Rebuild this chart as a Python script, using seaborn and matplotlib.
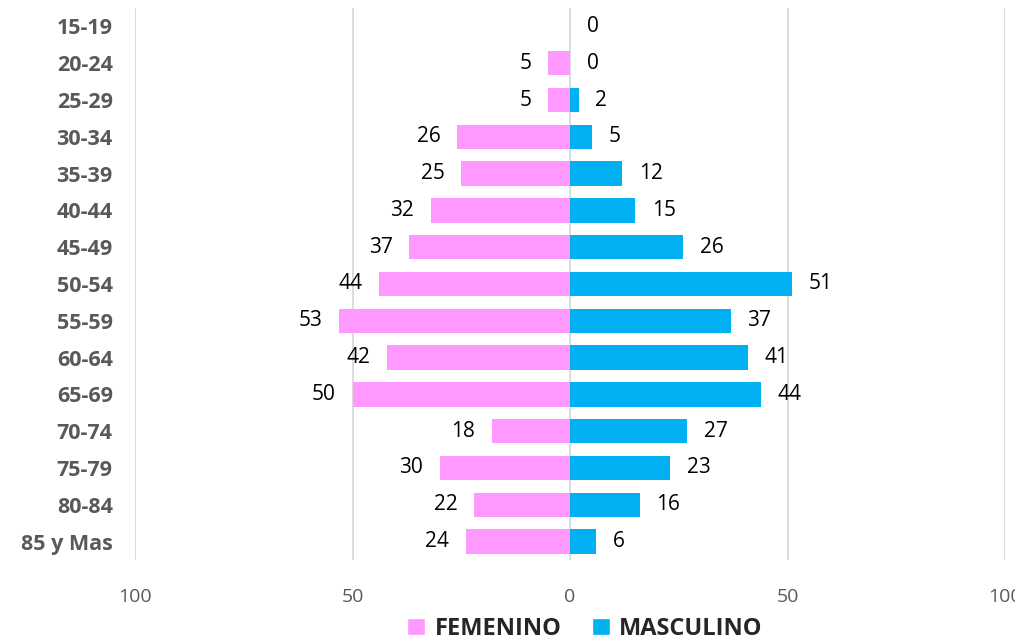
import matplotlib
matplotlib.use("Agg")
import matplotlib.pyplot as plt
import seaborn as sns
import pandas as pd
from matplotlib.patches import Patch

# data
edades = ["15-19", "20-24", "25-29", "30-34", "35-39", "40-44", "45-49", "50-54",
          "55-59", "60-64", "65-69", "70-74", "75-79", "80-84", "85 y Mas"]
femenino = [0, 5, 5, 26, 25, 32, 37, 44, 53, 42, 50, 18, 30, 22, 24]
masculino = [0, 0, 2, 5, 12, 15, 26, 51, 37, 41, 44, 27, 23, 16, 6]
x_ticks = [-100, -50, 0, 50, 100]

rosa = "#FF99FF"
azul = "#00B0F0"

sns.set_style("white")
plt.rcParams["font.family"] = ["Open Sans", "DejaVu Sans"]

df = pd.DataFrame({
    "edad": edades * 2,
    "valor": [-v for v in femenino] + masculino,
    "sexo": ["FEMENINO"] * len(edades) + ["MASCULINO"] * len(edades),
})

fig = plt.figure(figsize=(10.15, 6.4), dpi=100)
ax = fig.add_axes([135 / 1015, 1 - 560 / 640, 870 / 1015, 552 / 640])

sns.barplot(data=df, y="edad", x="valor", hue="sexo", order=edades,
            palette={"FEMENINO": rosa, "MASCULINO": azul},
            dodge=False, width=0.66, orient="h", ax=ax, legend=False,
            saturation=1, linewidth=0)

ax.set_xlim(-100, 100)
ax.set_ylim(len(edades) - 0.5, -0.5)
ax.set_xticks(x_ticks)
ax.set_xticklabels([str(abs(t)) for t in x_ticks], fontsize=14, color="#595959")
ax.tick_params(axis="x", length=0, pad=20)
ax.tick_params(axis="y", length=0, pad=16)
ax.set_yticks(range(len(edades)))
ax.set_yticklabels(edades, fontsize=15.5, fontweight="bold", color="#595959")
ax.set_xlabel("")
ax.set_ylabel("")
ax.xaxis.grid(True, color="#D9D9D9", linewidth=1.3)
ax.set_axisbelow(True)
for s in ax.spines.values():
    s.set_visible(False)

# data labels
for i, (f, m) in enumerate(zip(femenino, masculino)):
    if f > 0:
        ax.text(-f - 3.8, i, str(f), ha="right", va="center", fontsize=15, color="black")
    ax.text(m + 3.8, i, str(m), ha="left", va="center", fontsize=15, color="black")

handles = [Patch(facecolor=rosa, label="FEMENINO"), Patch(facecolor=azul, label="MASCULINO")]
fig.legend(handles=handles, loc="center", bbox_to_anchor=(585 / 1015, 1 - 629 / 640),
           ncol=2, frameon=False, prop={"weight": "bold", "size": 17},
           handlelength=0.75, handleheight=0.75, handletextpad=0.4, columnspacing=1.3)

fig.savefig("out.png", dpi=100)
